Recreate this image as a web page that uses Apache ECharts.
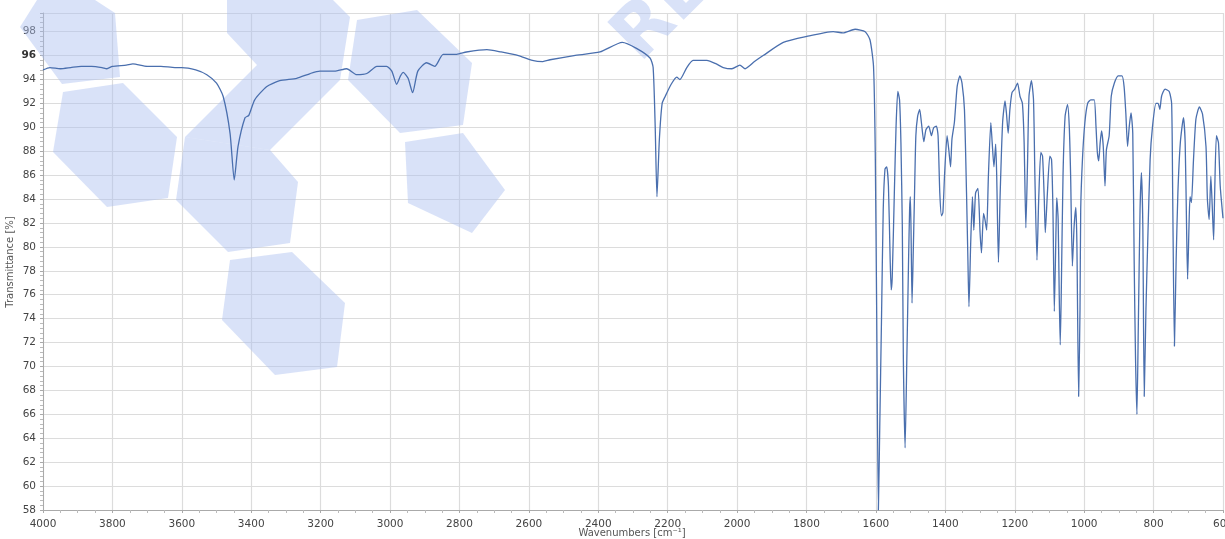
<!DOCTYPE html>
<html>
<head>
<meta charset="utf-8">
<script src="https://cdn.jsdelivr.net/npm/echarts@6/dist/echarts.min.js"></script>
<style>
  html, body { margin: 0; padding: 0; background: #fff; }
  #chart { width: 1225px; height: 539px; }
</style>
</head>
<body>
<div id="chart"></div>
<script>
var wavenumbers = [
  4000, 3980, 3950, 3920, 3890, 3860, 3830, 3816, 3800, 3760, 3741, 3700, 3660, 3620, 3600,
  3560, 3528, 3500, 3481, 3461, 3449, 3438, 3418, 3407, 3390, 3356, 3318, 3269, 3230, 3202,
  3160, 3125, 3096, 3067, 3038, 3010, 2995, 2981, 2970, 2962, 2948, 2935, 2920, 2895, 2871,
  2847, 2808, 2780, 2721, 2680, 2630, 2590, 2560, 2539, 2470, 2395, 2331, 2290, 2251, 2242,
  2236, 2231, 2224, 2216, 2207, 2190, 2174, 2165, 2145, 2127, 2087, 2060, 2040, 2015, 1992,
  1977, 1950, 1925, 1867, 1799, 1723, 1695, 1660, 1631, 1617, 1607, 1602, 1598, 1593, 1589,
  1584, 1579, 1574, 1569, 1564, 1559, 1556, 1553, 1547, 1542, 1537, 1532, 1528, 1524, 1521,
  1516, 1511, 1506, 1503, 1501, 1499, 1496, 1493, 1489, 1485, 1480, 1474, 1469, 1462, 1456,
  1448, 1440, 1434, 1426, 1421, 1416, 1411, 1407, 1402, 1395, 1390, 1385, 1381, 1374, 1366,
  1358, 1352, 1345, 1339, 1335, 1332, 1327, 1322, 1318, 1313, 1306, 1300, 1296, 1290, 1286,
  1281, 1276, 1269, 1265, 1260, 1255, 1252, 1247, 1242, 1235, 1228, 1224, 1219, 1214, 1208,
  1200, 1192, 1185, 1178, 1173, 1168, 1163, 1159, 1152, 1146, 1142, 1136, 1131, 1125, 1120,
  1115, 1112, 1106, 1099, 1094, 1090, 1086, 1081, 1079, 1075, 1072, 1069, 1066, 1061, 1055,
  1048, 1043, 1039, 1034, 1029, 1024, 1021, 1016, 1012, 1010, 1005, 998, 990, 981, 971,
  966, 962, 958, 954, 950, 945, 940, 936, 928, 922, 913, 902, 891, 885, 880,
  875, 870, 865, 860, 856, 852, 848, 844, 839, 835, 831, 827, 822, 817, 810,
  803, 793, 787, 782, 777, 767, 755, 748, 745, 740, 735, 730, 723, 714, 709,
  705, 702, 698, 695, 691, 685, 678, 668, 659, 649, 645, 640, 635, 631, 627,
  624, 619, 613, 608, 600
];

// transmittance [%]
var transmittance = [
  94.8, 95.0, 94.9, 95.0, 95.1, 95.1, 95.0, 94.9, 95.1, 95.2, 95.3, 95.1, 95.1, 95.0, 95.0,
  94.8, 94.4, 93.7, 92.6, 89.5, 85.6, 88.4, 90.8, 91.0, 92.3, 93.4, 93.9, 94.1, 94.5, 94.7,
  94.7, 94.9, 94.4, 94.5, 95.1, 95.1, 94.7, 93.6, 94.3, 94.6, 94.1, 92.9, 94.7, 95.4, 95.1,
  96.1, 96.1, 96.3, 96.5, 96.3, 96.0, 95.6, 95.5, 95.65, 96.0, 96.3, 97.1, 96.6, 95.8, 95.0,
  90.0, 84.2, 89.0, 92.0, 92.6, 93.6, 94.2, 94.0, 95.0, 95.6, 95.6, 95.3, 95.0, 94.9, 95.2,
  94.9, 95.5, 96.0, 97.1, 97.6, 98.0, 97.9, 98.2, 98.0, 97.3, 95.1, 88.0, 75.0, 58.0, 65.0,
  73.9, 83.1, 86.5, 86.7, 85.1, 78.9, 76.4, 77.5, 84.5, 90.1, 93.0, 92.3, 88.7, 81.7, 70.6,
  63.2, 70.6, 78.9, 83.1, 84.2, 81.7, 75.3, 78.9, 84.2, 89.3, 90.9, 91.5, 90.4, 88.8, 89.8,
  90.1, 89.3, 89.95, 90.1, 89.3, 84.5, 82.6, 82.9, 86.2, 89.3, 88.1, 86.7, 89.0, 90.4, 93.4,
  94.3, 93.7, 91.5, 84.5, 78.9, 75.0, 80.3, 84.2, 81.4, 84.5, 84.9, 81.2, 79.5, 82.8, 82.3,
  81.4, 85.9, 90.4, 88.7, 86.7, 88.6, 85.9, 78.7, 84.5, 90.4, 92.2, 91.2, 89.5, 91.5, 92.9,
  93.2, 93.7, 92.6, 92.0, 88.7, 81.6, 87.3, 92.6, 93.9, 92.3, 85.9, 78.9, 84.0, 87.9, 87.6,
  84.0, 81.2, 84.5, 87.6, 87.3, 83.1, 74.6, 81.7, 84.1, 82.3, 76.2, 71.8, 76.2, 85.9, 90.9,
  91.9, 90.1, 85.9, 78.4, 81.7, 83.3, 80.3, 67.5, 74.8, 83.1, 87.3, 90.4, 92.0, 92.3, 92.3,
  90.1, 87.9, 87.2, 88.7, 89.7, 88.4, 85.1, 88.1, 89.3, 92.6, 93.7, 94.3, 94.3, 93.4, 91.2,
  88.4, 90.1, 91.2, 89.5, 78.9, 70.6, 66.0, 73.4, 83.1, 86.2, 81.7, 67.5, 74.8, 80.3, 87.3,
  90.1, 92.0, 92.0, 91.5, 92.6, 93.2, 93.0, 92.0, 84.5, 71.7, 78.9, 84.5, 88.7, 90.8, 88.7,
  81.7, 77.3, 81.7, 84.2, 83.7, 87.3, 90.7, 91.7, 91.1, 88.4, 84.0, 82.3, 85.9, 83.4, 80.6,
  84.5, 89.3, 88.7, 85.1, 82.4
];

var spectrum = [];
for (var i = 0; i < wavenumbers.length; i++) {
    spectrum.push([wavenumbers[i], transmittance[i]]);
}

var chart = echarts.init(document.getElementById('chart'), null, {renderer: 'canvas'});

// watermark shapes behind the curve
var wmFill = 'rgba(170,190,240,0.45)';
function hexShape(pts) {
    return {
        type: 'polygon',
        silent: true,
        z: 1,
        shape: {points: pts},
        style: {fill: wmFill}
    };
}
// axis titles drawn as plain text so they sit where the original has them
function axisTitle(txt, x, y, rot) {
    return {
        type: 'text',
        silent: true,
        x: x,
        y: y,
        rotation: rot,
        style: {
            text: txt,
            fill: '#555',
            font: '10px "DejaVu Sans"',
            textAlign: 'center',
            textVerticalAlign: 'middle'
        }
    };
}

var option = {
    animation: false,
    backgroundColor: '#fff',
    grid: {left: 43, right: 2, top: 13, bottom: 29, outerBoundsMode: 'none', containLabel: false},
    graphic: [
        hexShape([[20, 27], [37, 0], [95, 0], [115, 13], [120, 77], [62, 84]]),
        hexShape([[63, 92], [123, 83], [177, 137], [168, 198], [107, 207], [53, 152]]),
        hexShape([[227, 0], [333, 0], [350, 17], [340, 80], [270, 150], [185, 137], [257, 65], [227, 33]]),
        hexShape([[185, 137], [270, 150], [298, 182], [290, 243], [228, 252], [176, 200]]),
        hexShape([[230, 260], [292, 252], [345, 303], [337, 367], [275, 375], [222, 320]]),
        hexShape([[357, 20], [417, 10], [472, 63], [463, 125], [400, 133], [348, 80]]),
        hexShape([[405, 142], [463, 133], [505, 190], [472, 233], [408, 203]]),
        {
            type: 'text',
            silent: true,
            z: 1,
            x: 652,
            y: 76,
            rotation: Math.PI / 4,
            style: {
                text: 'RE',
                fill: wmFill,
                font: 'bold 72px "DejaVu Sans"',
                textAlign: 'left',
                textVerticalAlign: 'bottom'
            }
        },
        axisTitle('Transmittance [%]', 10, 262, Math.PI / 2),
        axisTitle('Wavenumbers [cm⁻¹]', 632, 533, 0)
    ],
    xAxis: {
        type: 'value',
        inverse: true,
        min: 600,
        max: 4000,
        interval: 200,
        axisLine: {lineStyle: {color: '#aaa'}},
        axisTick: {show: true, length: 3, lineStyle: {color: '#aaa'}},
        minorTick: {show: true, splitNumber: 4, length: 3, lineStyle: {color: '#bbb'}},
        axisLabel: {
            color: '#444', fontSize: 10.5, fontFamily: 'DejaVu Sans', margin: 9,
            formatter: function (v) { return String(v); }
        },
        splitLine: {show: true, lineStyle: {color: '#dcdcdc', width: 1.2}}
    },
    yAxis: {
        type: 'value',
        min: 58,
        max: 99.56,
        interval: 2,
        axisLine: {show: true, lineStyle: {color: '#aaa'}},
        axisTick: {show: true, length: 3, lineStyle: {color: '#aaa'}},
        minorTick: {show: true, splitNumber: 5, length: 3, lineStyle: {color: '#bbb'}},
        axisLabel: {
            showMaxLabel: false,
            color: '#444',
            fontSize: 10.5,
            fontFamily: 'DejaVu Sans',
            margin: 7,
            formatter: function (v) {
                return v === 96 ? '{b|96}' : String(v);
            },
            rich: {b: {fontWeight: 'bold', color: '#333', fontSize: 10.5, fontFamily: 'DejaVu Sans'}}
        },
        splitLine: {show: true, lineStyle: {color: '#dcdcdc', width: 1.2}}
    },
    series: [{
        type: 'line',
        name: 'Transmittance',
        data: spectrum,
        showSymbol: false,
        smooth: 0.2,
        z: 3,
        lineStyle: {color: '#4a6fae', width: 1.3}
    }]
};

chart.setOption(option);
</script>
</body>
</html>
